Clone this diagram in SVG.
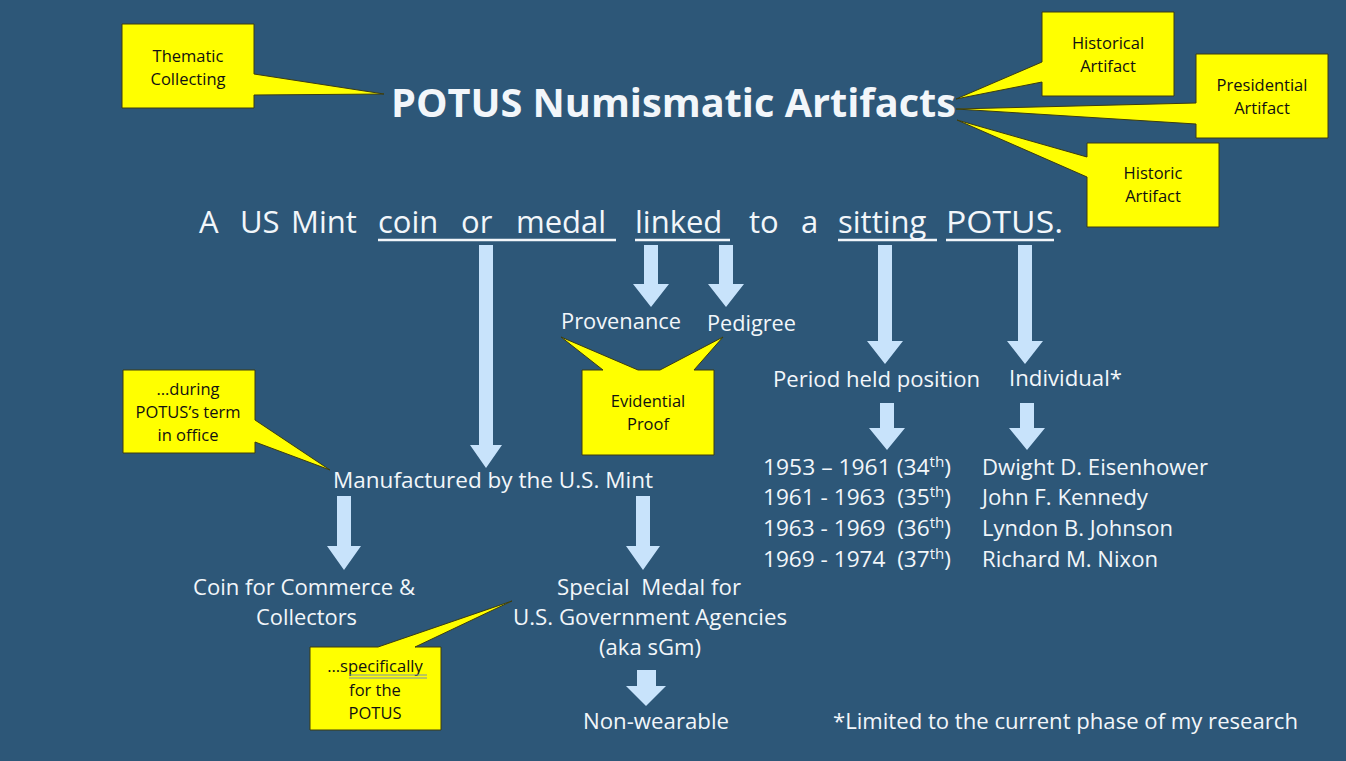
<svg xmlns="http://www.w3.org/2000/svg" width="1346" height="761" viewBox="0 0 1346 761">
<defs>
<style>
.bg{fill:#2D5778}
.t{font-family:"Open Sans",Lato,"Liberation Sans",sans-serif;fill:#F2F6FA;white-space:pre}
.m{font-size:21px}
.s{font-size:31px}
.c{font-family:"Open Sans",Lato,"Liberation Sans",sans-serif;fill:#111;font-size:16.5px;text-anchor:middle}
.call{fill:#FFFF00;stroke:#3C3C10;stroke-width:1}
.arr{fill:#C8E3FB}
.ul{stroke:#F2F6FA;stroke-width:2.5}
.sup{font-size:14px}
</style>
</defs>
<rect class="bg" x="0" y="0" width="1346" height="761"/>

<g id="title"><text class="t" x="391" y="117" font-size="40" font-weight="bold" textLength="565" lengthAdjust="spacingAndGlyphs">POTUS Numismatic Artifacts</text></g>

<g id="callout-thematic">
<path class="call" d="M122,24 H254 V74 L384,94 L254,95 V108 H122 Z"/>
<text class="c" x="188" y="62">Thematic</text><text class="c" x="188" y="85">Collecting</text>
</g>
<g id="callout-historical">
<path class="call" d="M1042,12 H1174 V96 H1042 V82 L956,99 L1042,62 Z"/>
<text class="c" x="1108" y="49">Historical</text><text class="c" x="1108" y="72">Artifact</text>
</g>
<g id="callout-presidential">
<path class="call" d="M1196,54 H1328 V138 H1196 V124 L956,109 L1196,103 Z"/>
<text class="c" x="1262" y="91">Presidential</text><text class="c" x="1262" y="114">Artifact</text>
</g>
<g id="callout-historic">
<path class="call" d="M1087,143 H1219 V227 H1087 V177 L957,120 L1087,157 Z"/>
<text class="c" x="1153" y="179">Historic</text><text class="c" x="1153" y="202">Artifact</text>
</g>

<g id="sentence">
<text class="t s" y="233"><tspan x="199">A</tspan><tspan x="240">US</tspan><tspan x="291">Mint</tspan><tspan x="378">coin</tspan><tspan x="461">or</tspan><tspan x="516">medal</tspan><tspan x="635">linked</tspan><tspan x="749">to</tspan><tspan x="801">a</tspan><tspan x="838">sitting</tspan><tspan x="946" textLength="117" lengthAdjust="spacingAndGlyphs">POTUS.</tspan></text>
<line class="ul" x1="378" y1="240" x2="616" y2="240"/>
<line class="ul" x1="635" y1="240" x2="730" y2="240"/>
<line class="ul" x1="838" y1="240" x2="937" y2="240"/>
<line class="ul" x1="946" y1="240" x2="1054" y2="240"/>
</g>

<g id="connectors">
<path class="arr" d="M479,245 H493 V445 H502 L486,468 L470,445 H479 Z"/>
<path class="arr" d="M644,245 H658 V284 H669 L651,307 L633,284 H644 Z"/>
<path class="arr" d="M719,245 H733 V284 H744 L726,307 L708,284 H719 Z"/>
<path class="arr" d="M878,245 H892 V341 H903 L885,364 L867,341 H878 Z"/>
<path class="arr" d="M1018,245 H1032 V341 H1043 L1025,364 L1007,341 H1018 Z"/>
<path class="arr" d="M880,403 H894 V428 H905 L887,450 L869,428 H880 Z"/>
<path class="arr" d="M1020,403 H1034 V428 H1045 L1027,450 L1009,428 H1020 Z"/>
<path class="arr" d="M337,496 H351 V546 H361 L344,570 L327,546 H337 Z"/>
<path class="arr" d="M636,496 H650 V546 H660 L643,570 L626,546 H636 Z"/>
<path class="arr" d="M637,670 H656 V686 H666 L646,706 L626,686 H637 Z"/>
</g>

<g id="provenance"><text class="t m" x="561" y="329" textLength="120" lengthAdjust="spacingAndGlyphs">Provenance</text></g>
<g id="pedigree"><text class="t m" x="707" y="331" textLength="89" lengthAdjust="spacingAndGlyphs">Pedigree</text></g>
<g id="callout-evidential">
<path class="call" d="M582,370 H603 L561,337 L638,370 H660 L723,337 L694,370 H714 V455 H582 Z"/>
<text class="c" x="648" y="407">Evidential</text><text class="c" x="648" y="430">Proof</text>
</g>

<g id="period"><text class="t m" x="773" y="387" textLength="207" lengthAdjust="spacingAndGlyphs">Period held position</text></g>
<g id="individual"><text class="t m" x="1009" y="386" textLength="113" lengthAdjust="spacingAndGlyphs">Individual*</text></g>

<g id="dates" class="t m">
<text x="763" y="475" xml:space="preserve" textLength="188" lengthAdjust="spacingAndGlyphs">1953 – 1961 (34<tspan class="sup" dy="-8">th</tspan><tspan dy="8">)</tspan></text>
<text x="763" y="505" xml:space="preserve" textLength="188" lengthAdjust="spacingAndGlyphs">1961 - 1963  (35<tspan class="sup" dy="-8">th</tspan><tspan dy="8">)</tspan></text>
<text x="763" y="536" xml:space="preserve" textLength="188" lengthAdjust="spacingAndGlyphs">1963 - 1969  (36<tspan class="sup" dy="-8">th</tspan><tspan dy="8">)</tspan></text>
<text x="763" y="567" xml:space="preserve" textLength="188" lengthAdjust="spacingAndGlyphs">1969 - 1974  (37<tspan class="sup" dy="-8">th</tspan><tspan dy="8">)</tspan></text>
</g>
<g id="names" class="t m">
<text x="982" y="475" textLength="226" lengthAdjust="spacingAndGlyphs">Dwight D. Eisenhower</text>
<text x="982" y="505" textLength="166" lengthAdjust="spacingAndGlyphs">John F. Kennedy</text>
<text x="982" y="536" textLength="191" lengthAdjust="spacingAndGlyphs">Lyndon B. Johnson</text>
<text x="982" y="567" textLength="176" lengthAdjust="spacingAndGlyphs">Richard M. Nixon</text>
</g>

<g id="callout-during">
<path class="call" d="M123,370 H255 V420 L330,470 L255,442 V453 H123 Z"/>
<text class="c" x="188" y="395">…during</text><text class="c" x="188" y="418">POTUS’s term</text><text class="c" x="188" y="441">in office</text>
</g>
<g id="manufactured"><text class="t m" x="333" y="488" textLength="320" lengthAdjust="spacingAndGlyphs">Manufactured by the U.S. Mint</text></g>

<g id="coin">
<text class="t m" x="193" y="595" textLength="222" lengthAdjust="spacingAndGlyphs">Coin for Commerce &amp;</text>
<text class="t m" x="256" y="625" textLength="101" lengthAdjust="spacingAndGlyphs">Collectors</text>
</g>
<g id="special">
<text class="t m" x="557" y="595" textLength="184" lengthAdjust="spacingAndGlyphs">Special  Medal for</text>
<text class="t m" x="513" y="625" textLength="274" lengthAdjust="spacingAndGlyphs">U.S. Government Agencies</text>
<text class="t m" x="599" y="655" textLength="102" lengthAdjust="spacingAndGlyphs">(aka sGm)</text>
</g>

<g id="callout-specifically">
<path class="call" d="M310,647 H378 L512,601 L415,647 H441 V730 H310 Z"/>
<text class="c" x="375" y="672">…specifically</text>
<line x1="349" y1="675" x2="427" y2="675" stroke="#7A8FB0" stroke-width="1"/>
<line x1="349" y1="678" x2="427" y2="678" stroke="#7A8FB0" stroke-width="1"/>
<text class="c" x="375" y="696">for the</text><text class="c" x="375" y="719">POTUS</text>
</g>

<g id="nonwearable"><text class="t m" x="583" y="729" textLength="146" lengthAdjust="spacingAndGlyphs">Non-wearable</text></g>
<g id="footnote"><text class="t m" x="833" y="729" textLength="465" lengthAdjust="spacingAndGlyphs">*Limited to the current phase of my research</text></g>
</svg>
